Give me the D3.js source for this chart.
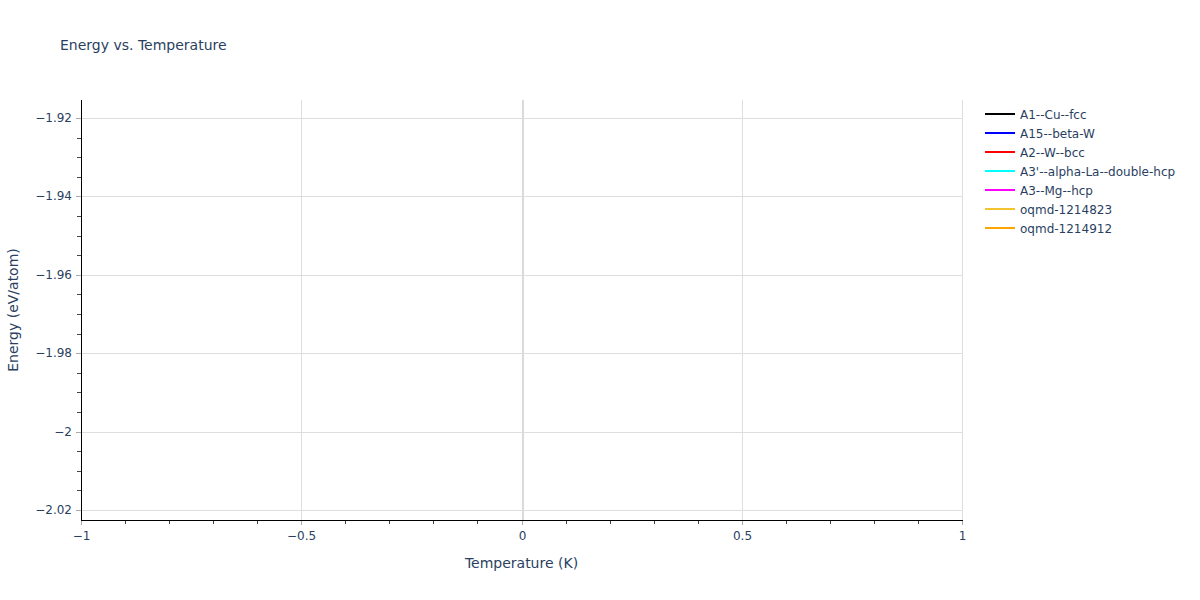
<!DOCTYPE html>
<html>
<head>
<meta charset="utf-8">
<script src="https://cdn.jsdelivr.net/npm/d3@7"></script>
<style>
  body { margin: 0; background: #fff; }
  text { font-family: "DejaVu Sans", Verdana, sans-serif; fill: #2a3f5f; }
</style>
</head>
<body>
<div id="chart"></div>
<script>
// series shown in the legend; the reference has no data points drawn
const seriesNames = ['A1--Cu--fcc', 'A15--beta-W', 'A2--W--bcc', "A3'--alpha-La--double-hcp", 'A3--Mg--hcp', 'oqmd-1214823', 'oqmd-1214912'];
const seriesColors = ['black', 'blue', 'red', 'cyan', 'magenta', '#f4c430', 'orange'];
const seriesTemps = [[], [], [], [], [], [], []];
const seriesEnergy = [[], [], [], [], [], [], []];

const xTicks = [-1, -0.5, 0, 0.5, 1];
const yTicks = [-1.92, -1.94, -1.96, -1.98, -2, -2.02];
const xDomain = [-1, 1];
const yDomain = [-2.02255, -1.91541];

const width = 1200;
const height = 600;
const margin = { top: 100, right: 238, bottom: 80, left: 81 };

const svg = d3.select('#chart')
    .append('svg')
    .attr('width', width)
    .attr('height', height);

const xScale = d3.scaleLinear()
    .domain(xDomain)
    .range([margin.left, width - margin.right]);

const yScale = d3.scaleLinear()
    .domain(yDomain)
    .range([height - margin.bottom, margin.top]);

const fmt = d => (d < 0 ? '\u2212' : '') + Math.abs(d);
const crisp = v => Math.round(v) + 0.5;

// grid
svg.append('g')
    .selectAll('line')
    .data(xTicks.filter(d => d !== 0))
    .enter()
    .append('line')
    .attr('x1', d => crisp(xScale(d))).attr('x2', d => crisp(xScale(d)))
    .attr('y1', margin.top).attr('y2', height - margin.bottom)
    .attr('stroke', '#dedede');

svg.append('g')
    .selectAll('line')
    .data(yTicks)
    .enter()
    .append('line')
    .attr('x1', margin.left).attr('x2', width - margin.right)
    .attr('y1', d => crisp(yScale(d))).attr('y2', d => crisp(yScale(d)))
    .attr('stroke', '#dedede');

// zero line
svg.append('line')
    .attr('x1', Math.round(xScale(0)) + 1).attr('x2', Math.round(xScale(0)) + 1)
    .attr('y1', margin.top).attr('y2', height - margin.bottom)
    .attr('stroke', '#dadada')
    .attr('stroke-width', 2);

// minor ticks
const xMinor = d3.range(-10, 11).map(i => i / 10).filter(d => !xTicks.some(t => Math.abs(t - d) < 1e-9));
const yMinor = d3.range(-404, -383).map(i => i / 200).filter(d => d >= yDomain[0] && d <= yDomain[1] && !yTicks.some(t => Math.abs(t - d) < 1e-9));

svg.append('g')
    .selectAll('line')
    .data(xMinor)
    .enter()
    .append('line')
    .attr('x1', d => crisp(xScale(d))).attr('x2', d => crisp(xScale(d)))
    .attr('y1', height - margin.bottom).attr('y2', height - margin.bottom + 4)
    .attr('stroke', '#444');

svg.append('g')
    .selectAll('line')
    .data(yMinor)
    .enter()
    .append('line')
    .attr('x1', margin.left - 4).attr('x2', margin.left)
    .attr('y1', d => crisp(yScale(d))).attr('y2', d => crisp(yScale(d)))
    .attr('stroke', '#444');

// axes
const xAxis = d3.axisBottom(xScale).tickValues(xTicks).tickFormat(fmt).tickSize(5).tickPadding(6);
const yAxis = d3.axisLeft(yScale).tickValues(yTicks).tickFormat(fmt).tickSize(5).tickPadding(3);

const gx = svg.append('g')
    .attr('transform', `translate(0, ${height - margin.bottom})`)
    .call(xAxis);
const gy = svg.append('g')
    .attr('transform', `translate(${margin.left}, 0)`)
    .call(yAxis);

[gx, gy].forEach(g => {
    g.select('.domain').remove();
    g.selectAll('.tick line').attr('stroke', '#aaa');
    g.selectAll('.tick text').style('font-size', '12px').attr('fill', '#2a3f5f')
        .style('font-family', '"DejaVu Sans", Verdana, sans-serif');
});
gx.selectAll('.tick').attr('transform', d => `translate(${crisp(xScale(d))},0)`);
gy.selectAll('.tick').attr('transform', d => `translate(0,${crisp(yScale(d))})`);
gy.selectAll('.tick text').attr('dx', '-1');

svg.append('line')
    .attr('x1', margin.left).attr('x2', width - margin.right + 1)
    .attr('y1', height - margin.bottom + 0.5).attr('y2', height - margin.bottom + 0.5)
    .attr('stroke', 'black');
svg.append('line')
    .attr('x1', margin.left + 0.5).attr('x2', margin.left + 0.5)
    .attr('y1', margin.top).attr('y2', height - margin.bottom + 1)
    .attr('stroke', 'black');

// series lines (empty in the reference)
const line = d3.line()
    .x(d => xScale(d[0]))
    .y(d => yScale(d[1]));

svg.append('g')
    .selectAll('path')
    .data(seriesNames.map((n, i) => d3.zip(seriesTemps[i], seriesEnergy[i])))
    .enter()
    .append('path')
    .attr('d', d => line(d))
    .attr('fill', 'none')
    .attr('stroke', (d, i) => seriesColors[i])
    .attr('stroke-width', 2);

// titles
svg.append('text')
    .attr('x', 60)
    .attr('y', 50)
    .style('font-size', '14px')
    .text('Energy vs. Temperature');

svg.append('text')
    .attr('x', xScale(0))
    .attr('y', 568)
    .attr('text-anchor', 'middle')
    .style('font-size', '14px')
    .text('Temperature (K)');

svg.append('text')
    .attr('transform', `translate(18, ${(margin.top + height - margin.bottom) / 2}) rotate(-90)`)
    .attr('text-anchor', 'middle')
    .style('font-size', '14px')
    .text('Energy (eV/atom)');

// legend
const legend = svg.append('g')
    .selectAll('g')
    .data(seriesNames)
    .enter()
    .append('g')
    .attr('transform', (d, i) => `translate(985, ${114 + i * 19})`);

legend.append('line')
    .attr('x1', 0).attr('x2', 30)
    .attr('stroke', (d, i) => seriesColors[i])
    .attr('stroke-width', 2);

legend.append('text')
    .attr('x', 35)
    .attr('y', 4.5)
    .style('font-size', '12px')
    .text(d => d);
</script>
</body>
</html>
